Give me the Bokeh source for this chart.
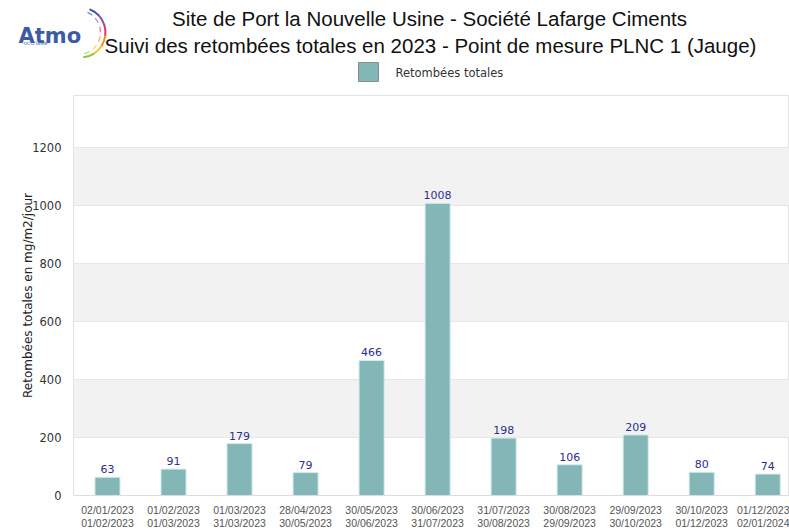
from bokeh.plotting import figure
from bokeh.models import Range1d, FixedTicker, ColumnDataSource
from bokeh.layouts import column
from bokeh.core.properties import value
from bokeh.embed import file_html
from bokeh.resources import INLINE

# ---- data ----
start_dates = ["02/01/2023", "01/02/2023", "01/03/2023", "28/04/2023", "30/05/2023",
               "30/06/2023", "31/07/2023", "30/08/2023", "29/09/2023", "30/10/2023",
               "01/12/2023"]
end_dates = ["01/02/2023", "01/03/2023", "31/03/2023", "30/05/2023", "30/06/2023",
             "31/07/2023", "30/08/2023", "29/09/2023", "30/10/2023", "01/12/2023",
             "02/01/2024"]
values = [63, 91, 179, 79, 466, 1008, 198, 106, 209, 80, 74]
y_ticks = [0, 200, 400, 600, 800, 1000, 1200]
series_name = "Retombées totales"
title_line1 = "Site de Port la Nouvelle Usine - Société Lafarge Ciments"
title_line2 = "Suivi des retombées totales en 2023 - Point de mesure PLNC 1 (Jauge)"
y_title = "Retombées totales en mg/m2/jour"

BAR = "#83b6b6"
W = 789
HH = 95

# ---- header (logo, titles, legend) ----
h = figure(width=W, height=HH, x_range=Range1d(0, W), y_range=Range1d(0, HH),
           output_backend="svg", toolbar_location=None, min_border=0,
           frame_align=False)
h.axis.visible = False
h.grid.visible = False
h.outline_line_color = None

# logo
h.text(x=[18], y=[60], text=["Atmo"], text_font=value("DejaVu Sans"),
       text_font_style="bold", text_font_size="21px", text_color="#3b5ba5",
       text_align="left", text_baseline="alphabetic")
h.text(x=[23], y=[52], text=["OCCITANIE"], text_font=value("DejaVu Sans"),
       text_font_size="4.5px", text_color="#3b5ba5", text_align="left",
       text_baseline="middle")
arc_cols = ["#3b5ba5", "#8e57a8", "#e0356a", "#f08a24", "#f4c430", "#8cc63f"]
for i, c in enumerate(arc_cols):
    a0 = 1.2 - i * 0.44
    a1 = a0 - 0.46
    h.arc(x=[80], y=[63], radius=25, start_angle=a1, end_angle=a0,
          line_color=c, line_width=2, radius_units="screen")
    h.arc(x=[78], y=[63], radius=22, start_angle=a1 + 0.15, end_angle=a0 - 0.05,
          line_color=c, line_width=1.2, radius_units="screen", line_alpha=0.7)

h.text(x=[429], y=[77], text=[title_line1], text_font=value("Liberation Sans"),
       text_font_size="20.5px", text_color="#111111", text_align="center",
       text_baseline="middle")
h.text(x=[430], y=[50], text=[title_line2], text_font=value("Liberation Sans"),
       text_font_size="20.5px", text_color="#111111", text_align="center",
       text_baseline="middle")

# legend
h.rect(x=[368], y=[23.5], width=20, height=19, fill_color=BAR,
       line_color="#8a8a8a", line_width=1)
h.text(x=[395], y=[23], text=[series_name], text_font=value("DejaVu Sans"),
       text_font_size="11.5px", text_color="#333333", text_align="left",
       text_baseline="middle")

# ---- main chart ----
xs = list(range(len(values)))
src = ColumnDataSource(dict(x=xs, v=values, lab=[str(v) for v in values]))

p = figure(width=W, height=436, x_range=Range1d(-0.515, 10.33),
           y_range=Range1d(0, 1380), output_backend="svg",
           toolbar_location=None, min_border_top=0, min_border_bottom=34,
           min_border_left=73, min_border_right=0, frame_align=False)

p.outline_line_color = "#e2e2e2"
p.xgrid.visible = False
p.ygrid.ticker = FixedTicker(ticks=y_ticks)
p.ygrid.grid_line_color = "#e6e6e6"
p.ygrid.band_fill_color = "#f2f2f2"
p.ygrid.band_fill_alpha = 1.0

p.vbar(x="x", top="v", width=0.38, source=src, fill_color=BAR,
       line_color="#d6ebeb", line_width=1)
p.text(x="x", y="v", text="lab", source=src, y_offset=-4,
       text_align="center", text_baseline="bottom",
       text_font=value("DejaVu Sans"), text_font_size="11px",
       text_color="#2d2d8f")

p.yaxis.ticker = FixedTicker(ticks=y_ticks)
p.yaxis.axis_line_color = None
p.yaxis.major_tick_line_color = None
p.yaxis.minor_tick_line_color = None
p.yaxis.major_label_text_font = "DejaVu Sans"
p.yaxis.major_label_text_font_size = "11.5px"
p.yaxis.major_label_text_color = "#333333"
p.yaxis.major_label_standoff = 6
p.yaxis.axis_label = y_title
p.yaxis.axis_label_text_font = "DejaVu Sans"
p.yaxis.axis_label_text_font_size = "12px"
p.yaxis.axis_label_text_font_style = "normal"
p.yaxis.axis_label_text_color = "#222222"
p.yaxis.axis_label_standoff = -6

p.xaxis.ticker = FixedTicker(ticks=xs)
p.xaxis.major_label_overrides = {i: f"{s}\n{e}" for i, (s, e) in enumerate(zip(start_dates, end_dates))}
p.xaxis.axis_line_color = "#dddddd"
p.xaxis.major_tick_line_color = None
p.xaxis.minor_tick_line_color = None
p.xaxis.major_label_text_font = "Liberation Sans"
p.xaxis.major_label_text_font_size = "10.5px"
p.xaxis.major_label_text_color = "#555555"
p.xaxis.major_label_standoff = 2
p.xaxis.major_label_text_line_height = 1.1

layout = column(h, p, spacing=0)
open("out.html", "w").write(file_html(layout, INLINE))
